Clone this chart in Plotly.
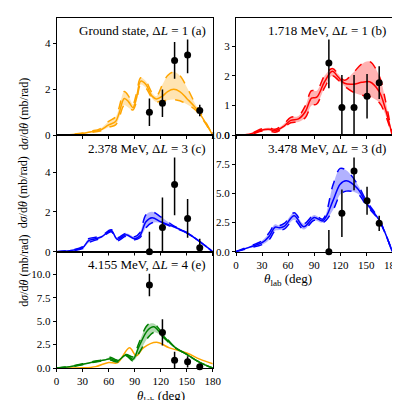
import plotly.graph_objects as go

# angle grids and cross sections (mb/rad)
a_x = [0, 15, 30, 40, 50, 60, 68, 72, 78, 83, 88, 92, 97, 103, 110, 115, 122, 128, 135, 142, 150, 160, 170, 180]
a_mid = [0, 0.02, 0.08, 0.15, 0.22, 0.45, 0.6, 0.95, 1.6, 1.45, 1.2, 1.6, 2.35, 2.2, 1.7, 1.58, 1.7, 1.9, 2.0, 1.9, 1.6, 1.2, 0.65, 0]
a_hi = [0, 0.03, 0.1, 0.18, 0.28, 0.6, 0.8, 1.2, 1.9, 1.7, 1.35, 1.8, 2.5, 2.35, 1.85, 1.7, 2.2, 2.6, 2.75, 2.6, 2.1, 1.35, 0.7, 0]
a_lo = [0, 0.01, 0.06, 0.12, 0.18, 0.35, 0.45, 0.75, 1.3, 1.2, 1.1, 1.45, 2.2, 2.05, 1.6, 1.45, 1.5, 1.52, 1.55, 1.5, 1.35, 1.1, 0.6, 0]

b_x = [0, 15, 30, 38, 45, 55, 63, 72, 80, 87, 93, 102, 111, 118, 125, 135, 145, 154, 165, 172, 180]
b_mid = [0, 0.03, 0.18, 0.2, 0.15, 0.3, 0.5, 0.55, 0.8, 1.25, 1.28, 1.8, 2.15, 1.95, 1.75, 1.72, 1.78, 1.8, 1.47, 0.9, 0]
b_hi = [0, 0.04, 0.22, 0.25, 0.2, 0.38, 0.6, 0.65, 1.0, 1.5, 1.5, 2.0, 2.25, 2.05, 1.85, 2.1, 2.4, 2.48, 2.0, 1.2, 0]
b_lo = [0, 0.02, 0.14, 0.15, 0.1, 0.25, 0.42, 0.45, 0.6, 1.0, 1.05, 1.6, 2.0, 1.85, 1.65, 1.45, 1.35, 1.3, 1.1, 0.7, 0]

c_x = [0, 15, 30, 37, 45, 52, 63, 70, 80, 90, 96, 103, 110, 120, 135, 150, 165, 180]
c_mid = [0, 0.05, 0.2, 0.55, 0.65, 0.75, 1.05, 0.62, 0.85, 0.65, 0.8, 1.5, 1.7, 1.5, 1.25, 0.95, 0.5, 0]
c_hi = [0, 0.06, 0.25, 0.65, 0.72, 0.8, 1.1, 0.7, 0.92, 0.75, 0.95, 1.85, 2.0, 1.75, 1.3, 0.95, 0.5, 0]
c_lo = [0, 0.04, 0.15, 0.45, 0.58, 0.7, 1.0, 0.55, 0.78, 0.6, 0.7, 1.2, 1.45, 1.45, 1.2, 0.95, 0.5, 0]

d_x = [0, 15, 30, 38, 45, 50, 56, 67, 78, 90, 100, 112, 120, 127, 140, 150, 165, 180]
d_mid = [0, 0.37, 0.77, 1.3, 2.1, 2.05, 2.2, 3.08, 2.14, 2.94, 2.65, 4.43, 5.8, 6.1, 5.43, 4.2, 2.7, 0]
d_hi = [0, 0.45, 0.95, 1.6, 2.35, 2.25, 2.45, 3.35, 2.4, 3.15, 2.8, 5.8, 7.15, 7.0, 5.8, 4.4, 2.75, 0]
d_lo = [0, 0.3, 0.6, 1.0, 1.8, 1.85, 1.95, 2.75, 1.9, 2.7, 2.5, 3.6, 4.9, 5.2, 5.0, 4.0, 2.65, 0]

e_x = [0, 15, 30, 45, 55, 62, 70, 80, 88, 95, 105, 112, 120, 135, 150, 165, 180]
e_mid = [0, 0.15, 0.4, 0.7, 0.85, 1.0, 0.75, 1.38, 0.93, 2.3, 4.03, 4.4, 3.7, 2.3, 1.45, 0.6, 0]
e_hi = [0, 0.18, 0.45, 0.75, 0.9, 1.15, 0.85, 1.45, 1.2, 2.7, 4.6, 4.75, 3.95, 2.35, 1.45, 0.6, 0]
e_lo = [0, 0.12, 0.35, 0.65, 0.8, 0.85, 0.65, 1.3, 0.75, 1.6, 3.2, 3.8, 3.5, 2.25, 1.45, 0.6, 0]
e_gs_x = [0, 30, 45, 60, 70, 84, 92, 100, 115, 130, 150, 165, 180]
e_gs = [0, 0.02, 0.15, 0.6, 0.55, 2.15, 1.3, 2.15, 2.75, 2.15, 1.6, 0.95, 0.45]

# measured points
pt_x = [107, 122, 136, 151, 165]
a_pts = [1.0, 1.39, 3.25, 3.49, 1.08]
a_err = [0.6, 0.6, 0.8, 0.8, 0.25]
b_pts = [2.43, 0.93, 0.93, 1.31, 1.77]
b_err = [0.85, 1.1, 1.1, 0.75, 0.55]
c_pts = [0.0, 1.22, 3.38, 1.67, 0.2]
c_err = [1.0, 1.5, 1.55, 0.97, 0.45]
d_pts = [0.0, 3.3, 6.93, 4.37, 2.43]
d_err = [1.85, 2.05, 1.65, 1.2, 0.65]
e_pts = [8.86, 3.8, 0.83, 0.66, 0.15]
e_err = [1.2, 1.4, 0.9, 0.6, 0.3]

titles = ["Ground state, Δ<i>L</i> = 1 (a)", "1.718 MeV, Δ<i>L</i> = 1 (b)", "2.378 MeV, Δ<i>L</i> = 3 (c)",
          "3.478 MeV, Δ<i>L</i> = 3 (d)", "4.155 MeV, Δ<i>L</i> = 4 (e)"]

FONT = "Liberation Serif"
fig = go.Figure()

panels = [
    (a_x, a_mid, a_hi, a_lo, a_pts, a_err, "#FFA500", "rgba(255,165,0,0.3)"),
    (b_x, b_mid, b_hi, b_lo, b_pts, b_err, "#FF0000", "rgba(255,0,0,0.3)"),
    (c_x, c_mid, c_hi, c_lo, c_pts, c_err, "#0000FF", "rgba(0,0,255,0.3)"),
    (d_x, d_mid, d_hi, d_lo, d_pts, d_err, "#0000FF", "rgba(0,0,255,0.3)"),
    (e_x, e_mid, e_hi, e_lo, e_pts, e_err, "#008000", "rgba(0,128,0,0.3)"),
]

for i, (x, mid, hi, lo, pts, err, col, fill) in enumerate(panels):
    n = "" if i == 0 else str(i + 1)
    xa, ya = "x" + n, "y" + n
    if i == 4:
        fig.add_trace(go.Scatter(x=e_gs_x, y=e_gs, mode="lines", line=dict(color="#FFA500", width=1.5, shape="spline"),
                                 xaxis=xa, yaxis=ya))
    fig.add_trace(go.Scatter(x=x, y=lo, mode="lines", line=dict(color=col, width=1.5, dash="dash", shape="spline"),
                             xaxis=xa, yaxis=ya))
    fig.add_trace(go.Scatter(x=x, y=hi, mode="lines", fill="tonexty", fillcolor=fill,
                             line=dict(color=col, width=1.5, dash="dash", shape="spline"), xaxis=xa, yaxis=ya))
    fig.add_trace(go.Scatter(x=x, y=mid, mode="lines", line=dict(color=col, width=1.5, shape="spline"),
                             xaxis=xa, yaxis=ya))
    fig.add_trace(go.Scatter(x=pt_x, y=pts, mode="markers", marker=dict(color="black", size=7),
                             error_y=dict(array=err, color="black", thickness=1.5, width=0),
                             xaxis=xa, yaxis=ya, cliponaxis=False))

L = [0.1175, 0.52]
R = [0.58, 0.9825]
top = [0.6875, 0.99]
mid_row = [0.3875, 0.6875]
bot = [0.0875, 0.3875]
doms = [(L, top), (R, top), (L, mid_row), (R, mid_row), (L, bot)]
yranges = [[0, 5.1], [0, 3.95], [0, 5.85], [0, 10], [0, 12.4]]
yticks = [[0, 2, 4], [0, 1, 2, 3], [0, 2, 4], [0, 2.5, 5, 7.5, 10], [0, 2.5, 5, 7.5, 10]]
ytext = [["0", "2", "4"], ["0", "1", "2", "3"], ["0", "2", "4"],
         ["0.0", "2.5", "5.0", "7.5", "10.0"], ["0.0", "2.5", "5.0", "7.5", "10.0"]]

axis_style = dict(showline=True, linecolor="black", mirror=True, ticks="outside", ticklen=3,
                  tickcolor="black", showgrid=False, zeroline=False, tickfont=dict(family=FONT, size=11, color="black"))

for i, ((dx, dy), yr, yt, ytt) in enumerate(zip(doms, yranges, yticks, ytext)):
    n = "" if i == 0 else str(i + 1)
    fig.update_layout({
        "xaxis" + n: dict(axis_style, domain=dx, anchor="y" + n, range=[0, 180],
                          tickvals=[0, 30, 60, 90, 120, 150, 180], showticklabels=i in (3, 4)),
        "yaxis" + n: dict(axis_style, domain=dy, anchor="x" + n, range=yr, tickvals=yt, ticktext=ytt),
    })
    fig.add_annotation(text=titles[i], xref="x" + n + " domain", yref="y" + n + " domain", x=0.97, y=0.97,
                       xanchor="right", yanchor="top", showarrow=False,
                       font=dict(family=FONT, size=13, color="black"), bgcolor="white")

ylab = "d<i>σ</i>/d<i>θ</i> (mb/rad)"
for yc in [0.84, 0.54, 0.24]:
    fig.add_annotation(text=ylab, xref="paper", yref="paper", x=0.01, y=yc, textangle=-90, showarrow=False,
                       font=dict(family=FONT, size=12, color="black"))
xlab = "<i>θ</i><sub>lab</sub> (deg)"
fig.add_annotation(text=xlab, xref="paper", yref="paper", x=0.78, y=0.342, yanchor="top", showarrow=False,
                   font=dict(family=FONT, size=13, color="black"))
fig.add_annotation(text=xlab, xref="paper", yref="paper", x=0.32, y=0.042, yanchor="top", showarrow=False,
                   font=dict(family=FONT, size=13, color="black"))

fig.update_layout(width=400, height=400, margin=dict(l=0, r=0, t=0, b=0), showlegend=False,
                  plot_bgcolor="white", paper_bgcolor="white")
fig.write_html("out.html")
